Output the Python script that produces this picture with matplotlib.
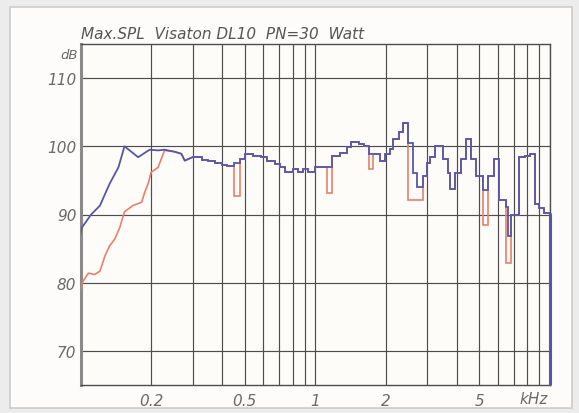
import matplotlib.pyplot as plt
from matplotlib.patches import Rectangle
from matplotlib.ticker import NullLocator

BLUE = "#5656a6"
RED = "#e8806c"
GRID = "#4d4d4d"
TEXT = "#6a6a6a"

# low-frequency part (kHz, dB), drawn as straight segments
blue_low_f = [0.100, 0.101, 0.111, 0.121, 0.133, 0.145, 0.154, 0.176, 0.197,
              0.214, 0.228, 0.252, 0.269, 0.278, 0.300]
blue_low_db = [87.1, 88.0, 90.0, 91.3, 94.5, 96.9, 100.0, 98.4, 99.5,
               99.4, 99.5, 99.2, 98.9, 97.9, 98.4]

red_low_f = [0.100, 0.1025, 0.108, 0.115, 0.121, 0.127, 0.133, 0.140, 0.147,
             0.154, 0.167, 0.182, 0.188, 0.194, 0.200, 0.214, 0.228, 0.252,
             0.269, 0.278, 0.300]
red_low_db = [78.8, 80.2, 81.4, 81.2, 81.7, 83.9, 85.4, 86.4, 88.1,
              90.4, 91.3, 91.8, 93.3, 94.5, 96.2, 96.9, 99.4, 99.2,
              98.9, 97.9, 98.4]

# stepped part: bin edges (kHz) and levels (dB)
step_edges = [0.300, 0.328, 0.350, 0.374, 0.399, 0.419, 0.452, 0.478, 0.502,
              0.545, 0.590, 0.621, 0.674, 0.708, 0.743, 0.807, 0.847, 0.889,
              0.934, 1.000, 1.125, 1.180, 1.280, 1.360, 1.420, 1.530, 1.610,
              1.690, 1.770, 1.890, 1.990, 2.090, 2.140, 2.270, 2.360, 2.480,
              2.620, 2.720, 2.870, 2.980, 3.080, 3.240, 3.510, 3.680, 3.760,
              3.920, 4.180, 4.390, 4.610, 4.830, 5.180, 5.450, 5.750, 6.040,
              6.480, 6.650, 6.820, 7.400, 7.800, 8.200, 8.600, 9.000, 9.450,
              10.00]
blue_steps = [98.4, 98.0, 97.8, 97.6, 97.3, 97.1, 97.6, 98.2,
              98.9, 98.6, 98.4, 97.8, 97.4, 97.0, 96.3, 96.7, 96.3,
              96.6, 96.3, 97.0, 97.0, 98.6, 99.0, 99.9, 100.7, 100.4,
              100.0, 98.9, 98.8, 97.9, 98.9, 99.6, 101.0, 102.1, 103.4,
              100.5, 96.1, 94.1, 95.7, 97.6, 98.4, 100.1, 98.1, 96.1,
              93.7, 96.1, 98.1, 101.1, 98.1, 95.6, 93.6, 95.6, 98.1,
              92.1, 91.1, 86.9, 89.9, 98.4, 98.6, 98.9, 91.6, 90.9,
              90.2]
red_steps = [98.4, 98.0, 97.8, 97.6, 97.3, 97.1, 92.7, 98.2,
             98.9, 98.6, 98.4, 97.8, 97.4, 97.0, 96.3, 96.7, 96.3,
             96.6, 96.3, 97.0, 93.2, 98.6, 99.0, 99.9, 100.7, 100.4,
             100.0, 96.7, 98.8, 97.9, 98.9, 99.6, 101.0, 102.1, 103.4,
             92.1, 92.1, 92.1, 95.7, 97.6, 98.4, 100.1, 98.1, 96.1,
             93.7, 96.1, 98.1, 101.1, 98.1, 95.6, 88.4, 95.6, 98.1,
             92.1, 82.9, 82.9, 89.9, 98.4, 98.6, 98.9, 91.6, 90.9,
             90.2]

grid_freqs = [0.1, 0.2, 0.3, 0.4, 0.5, 0.6, 0.7, 0.8, 0.9,
              1, 2, 3, 4, 5, 6, 7, 8, 9, 10]
x_labels = {0.2: "0.2", 0.5: "0.5", 1: "1", 2: "2", 5: "5"}
y_ticks = [70, 80, 90, 100, 110]

plt.rcParams["font.style"] = "italic"

fig = plt.figure(figsize=(5.79, 4.14), dpi=100, facecolor="#ececec")
fig.patches.append(Rectangle((10 / 579, 5 / 414), 562 / 579, 401 / 414,
                             transform=fig.transFigure, facecolor="#fdfcfa",
                             edgecolor="#cccccc", lw=1.2, zorder=-1))

ax = fig.add_axes([80.5 / 579, 28 / 414, 469.5 / 579, 341 / 414])
ax.set_facecolor("#fefcf9")
ax.set_xscale("log")
ax.set_xlim(0.1, 10)
ax.set_ylim(65, 115)

ax.set_xticks(grid_freqs, labels=[x_labels.get(f, "") for f in grid_freqs])
ax.xaxis.set_minor_locator(NullLocator())
ax.set_yticks(y_ticks, labels=[str(v) for v in y_ticks])
ax.grid(True, color=GRID, lw=0.85)
ax.tick_params(length=0, labelsize=11, labelcolor=TEXT)
ax.tick_params(axis="x", pad=6)
ax.tick_params(axis="y", pad=3)

for side in ["top", "right", "bottom"]:
    ax.spines[side].set_color(GRID)
    ax.spines[side].set_linewidth(1.0)
ax.spines["left"].set_color("#8a8a8a")
ax.spines["left"].set_linewidth(2.2)

ax.plot(red_low_f, red_low_db, color=RED, lw=1.2, zorder=3)
ax.stairs(red_steps, step_edges, baseline=None, color=RED, lw=1.2, zorder=3)
ax.plot(blue_low_f, blue_low_db, color=BLUE, lw=1.3, zorder=4)
ax.stairs(blue_steps, step_edges, baseline=None, color=BLUE, lw=1.3, zorder=4)
ax.vlines(step_edges[-1], 65, blue_steps[-1], color=BLUE, lw=2.2, zorder=5,
          clip_on=False)

fig.text(81 / 579, 1 - 39 / 414, "Max.SPL  Visaton DL10  PN=30  Watt",
         fontsize=11, color="#555555", ha="left", va="baseline")
fig.text(78 / 579, 1 - 59 / 414, "dB", fontsize=9.5, color=TEXT,
         ha="right", va="baseline")
fig.text(548 / 579, 1 - 404 / 414, "kHz", fontsize=11, color=TEXT,
         ha="right", va="baseline")

fig.savefig("out.png", dpi=100, facecolor=fig.get_facecolor())
